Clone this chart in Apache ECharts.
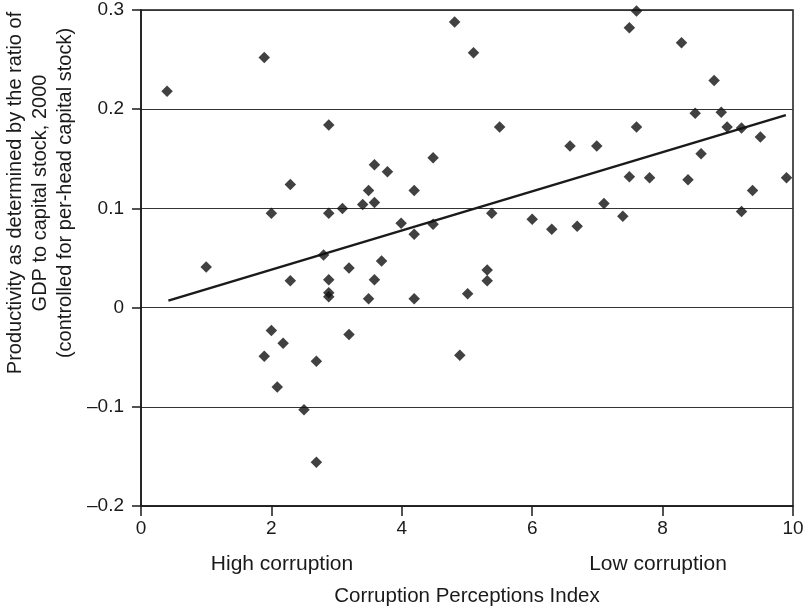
<!DOCTYPE html>
<html>
<head>
<meta charset="utf-8">
<script src="https://cdn.jsdelivr.net/npm/echarts@6/dist/echarts.min.js"></script>
<style>
  html, body { margin: 0; padding: 0; background: #fff; }
  #chart { width: 809px; height: 612px; }
</style>
</head>
<body>
<div id="chart"></div>
<script>
// Corruption Perceptions Index (x) vs productivity (y)
const cpiValues = [
  0.40, 1.00, 1.89, 1.89, 2.00, 2.00, 2.09, 2.18, 2.29, 2.29,
  2.50, 2.69, 2.69, 2.80, 2.88, 2.88, 2.88, 2.88, 2.88, 3.09,
  3.19, 3.19, 3.40, 3.49, 3.49, 3.58, 3.58, 3.58, 3.69, 3.78,
  3.99, 4.19, 4.19, 4.19, 4.48, 4.48, 4.81, 4.89, 5.01, 5.10,
  5.31, 5.31, 5.38, 5.50, 6.00, 6.30, 6.58, 6.69, 6.99, 7.10,
  7.39, 7.49, 7.49, 7.60, 7.60, 7.80, 8.29, 8.39, 8.50, 8.59,
  8.79, 8.90, 8.99, 9.21, 9.21, 9.38, 9.50, 9.90
];
const productivity = [
  0.218, 0.041, 0.252, -0.049, 0.095, -0.023, -0.080, -0.036, 0.124, 0.027,
  -0.103, -0.054, -0.156, 0.053, 0.184, 0.095, 0.028, 0.015, 0.011, 0.100,
  0.040, -0.027, 0.104, 0.118, 0.009, 0.144, 0.106, 0.028, 0.047, 0.137,
  0.085, 0.118, 0.074, 0.009, 0.151, 0.084, 0.288, -0.048, 0.014, 0.257,
  0.038, 0.027, 0.095, 0.182, 0.089, 0.079, 0.163, 0.082, 0.163, 0.105,
  0.092, 0.282, 0.132, 0.299, 0.182, 0.131, 0.267, 0.129, 0.196, 0.155,
  0.229, 0.197, 0.182, 0.181, 0.097, 0.118, 0.172, 0.131
];
// fitted trend line, endpoints
const trendX = [0.42, 9.89];
const trendY = [0.007, 0.194];

const xTicks = [0, 2, 4, 6, 8, 10];
const yTicks = [-0.2, -0.1, 0, 0.1, 0.2, 0.3];

const ink = '#1a1a1a';
const font = 'Liberation Sans, Arial, sans-serif';

const chart = echarts.init(document.getElementById('chart'), null, { renderer: 'canvas' });

const points = cpiValues.map((x, i) => [x, productivity[i]]);
const trend = trendX.map((x, i) => [x, trendY[i]]);

const option = {
  animation: false,
  backgroundColor: '#fff',
  textStyle: { fontFamily: font },
  grid: {
    left: 141, right: 16, top: 10, bottom: 105,
    show: true, borderColor: ink, borderWidth: 1.5
  },
  xAxis: {
    type: 'value',
    min: xTicks[0], max: xTicks[xTicks.length - 1], interval: 2,
    name: 'Corruption Perceptions Index',
    nameLocation: 'middle', nameGap: 80,
    nameTextStyle: { color: ink, fontSize: 20.5, fontFamily: font },
    axisLine: { show: true, onZero: false, lineStyle: { color: ink, width: 1.5 } },
    axisTick: { show: true, length: 10, lineStyle: { color: ink, width: 1.5 } },
    axisLabel: { color: ink, fontSize: 19, margin: 13, fontFamily: font },
    splitLine: { show: false }
  },
  yAxis: {
    type: 'value',
    min: yTicks[0], max: yTicks[yTicks.length - 1], interval: 0.1,
    axisLine: { show: true, onZero: false, lineStyle: { color: ink, width: 1.5 } },
    axisTick: { show: true, length: 9, lineStyle: { color: ink, width: 1.5 } },
    axisLabel: {
      color: ink, fontSize: 19, margin: 17, fontFamily: font,
      formatter: v => {
        const r = Math.round(v * 10) / 10;
        return r === 0 ? '0' : String(r).replace('-', '\u2013');
      }
    },
    splitLine: { show: true, lineStyle: { color: '#333', width: 1.2 } }
  },
  graphic: [
    {
      type: 'text', x: 40, y: 193, rotation: Math.PI / 2,
      style: {
        text: 'Productivity as determined by the ratio of\nGDP to capital stock, 2000\n(controlled for per-head capital stock)',
        font: '20px ' + font, fill: ink, textAlign: 'center', textVerticalAlign: 'middle',
        lineHeight: 25
      }
    },
    {
      type: 'text', x: 282, y: 564,
      style: { text: 'High corruption', font: '21px ' + font, fill: ink, textAlign: 'center', textVerticalAlign: 'middle' }
    },
    {
      type: 'text', x: 658, y: 564,
      style: { text: 'Low corruption', font: '21px ' + font, fill: ink, textAlign: 'center', textVerticalAlign: 'middle' }
    }
  ],
  series: [
    {
      type: 'scatter',
      data: points,
      symbol: 'diamond',
      symbolSize: [11.5, 11.5],
      itemStyle: { color: '#111' },
      z: 3
    },
    {
      type: 'line',
      data: trend,
      symbol: 'none',
      lineStyle: { color: ink, width: 2.5 },
      z: 2
    }
  ]
};

chart.setOption(option);
</script>
</body>
</html>
